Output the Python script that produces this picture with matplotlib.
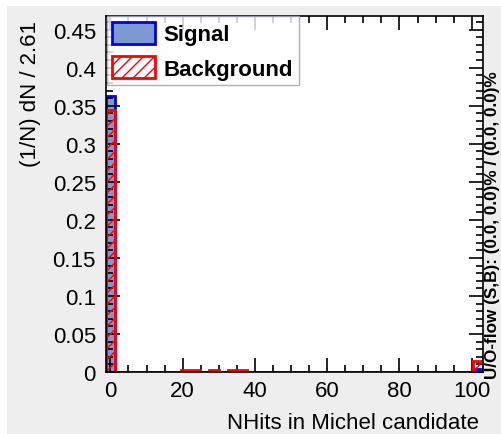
import matplotlib.pyplot as plt
import numpy as np
from matplotlib.ticker import MultipleLocator
from matplotlib.patches import Patch, Rectangle

plt.rcParams['font.family'] = ['Liberation Sans', 'DejaVu Sans']
plt.rcParams['hatch.linewidth'] = 1.0

# binning: 40 bins of width 2.61 starting at -1.305
bin_width = 2.61
x_start = -1.305
n_bins = 40
edges = x_start + bin_width * np.arange(n_bins + 1)

# normalised contents (1/N) dN / 2.61
signal = [0.0] * n_bins
signal[0] = 0.363
signal[39] = 0.004

background = [0.0] * n_bins
background[0] = 0.345
background[8] = 0.003
background[9] = 0.003
background[11] = 0.002
background[13] = 0.003
background[14] = 0.002
background[39] = 0.0145

fig = plt.figure(figsize=(5.02, 4.35), dpi=100)
fig.patch.set_facecolor('white')
# grey canvas with thin white margin top/left
fig.patches.append(Rectangle((7 / 502, 0), 1, 1 - 7 / 435, transform=fig.transFigure,
                             facecolor='#eeeeee', edgecolor='none', zorder=-10))

ax = fig.add_axes([0.2105, 0.1425, 0.7515, 0.8185])
ax.set_facecolor('#fefefe')

ax.stairs(signal, edges, fill=True, facecolor='#7d99d1', edgecolor='none', zorder=1)
ax.stairs(signal, edges, color='#0000ee', linewidth=2, zorder=2)
ax.stairs(background, edges, fill=True, facecolor='none', edgecolor='red',
          hatch='///', linewidth=0, zorder=3)
ax.stairs(background, edges, color='red', linewidth=2, zorder=4)

ax.set_xlim(edges[0], edges[-1])
ax.set_ylim(0, 0.468)

ax.xaxis.set_major_locator(MultipleLocator(20))
ax.xaxis.set_minor_locator(MultipleLocator(5))
ax.yaxis.set_minor_locator(MultipleLocator(0.01))
ax.tick_params(which='both', direction='in', top=True, right=True, width=1.2,
               labelsize=16, colors='black')
ax.tick_params(which='major', length=10)
ax.tick_params(which='minor', length=5)
ax.tick_params(axis='x', pad=6)
ax.tick_params(axis='y', pad=7)
yt = [0, 0.05, 0.1, 0.15, 0.2, 0.25, 0.3, 0.35, 0.4, 0.45]
ax.set_yticks(yt)
ax.set_yticklabels(['0', '0.05', '0.1', '0.15', '0.2', '0.25', '0.3', '0.35', '0.4', '0.45'])
for s in ax.spines.values():
    s.set_linewidth(1.2)
    s.set_zorder(10)
ax.set_axisbelow(False)

ax.set_xlabel('NHits in Michel candidate', fontsize=16, ha='right', x=0.99, labelpad=8)
ax.set_ylabel('(1/N) dN / 2.61', fontsize=16, ha='right', y=0.99, labelpad=8)

fig.text(0.981, 0.128, 'U/O-flow (S,B): (0.0, 0.0)% / (0.0, 0.0)%', rotation=90,
         ha='center', va='bottom', fontsize=12.3, fontweight='bold')

# legend
h_sig = Patch(facecolor='#7d99d1', edgecolor='#0000ee', linewidth=2, label='Signal')
h_bkg = Patch(facecolor='white', edgecolor='red', hatch='///', linewidth=2, label='Background')
leg = ax.legend(handles=[h_sig, h_bkg], loc='upper left', bbox_to_anchor=(0.003, 1.0),
                prop={'weight': 'bold', 'size': 16}, frameon=True, fancybox=False,
                edgecolor='#9a9ab0', handlelength=1.9, handleheight=1.15,
                borderpad=0.25, labelspacing=0.5, handletextpad=0.4, borderaxespad=0)
leg.get_frame().set_linewidth(1.0)
leg.set_zorder(20)

plt.savefig('out.png', dpi=100, facecolor=fig.get_facecolor())
